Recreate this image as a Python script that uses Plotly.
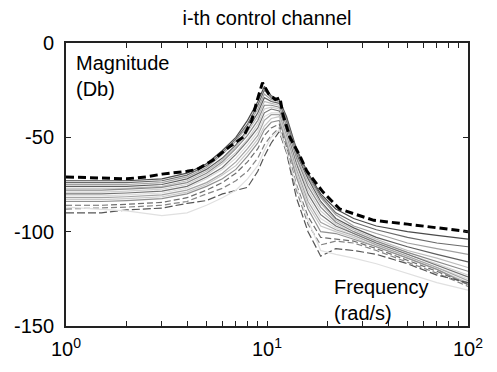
import plotly.graph_objects as go

# Envelope (worst case) curve
env_w = [1, 1.5, 2, 2.5, 3, 4, 4.5, 5.4, 6.5, 7.6, 8.4, 8.9, 9.5, 10.2, 11, 11.6, 12, 13, 14.6, 15.8, 19, 23, 34, 50, 72, 100]
env_db = [-71, -71.5, -72, -71, -69.5, -68, -67, -62, -55, -50, -41, -31, -21, -27, -30, -29, -38, -50, -60, -68, -79, -88, -94, -96, -98, -100]

# Frequency grid for the family of channel responses
freq = [1, 1.5, 2, 3, 4, 5, 6, 7, 8, 9, 9.7, 10.5, 11.5, 12.5, 14, 16, 18.5, 22, 27, 35, 50, 70, 100]

c0 = [-73, -73, -73, -72, -69, -64, -57, -50, -41, -31, -23, -28, -30, -39, -56, -69, -80, -88, -93, -97, -100, -102, -104]
c1 = [-74, -74, -74, -73, -70, -65, -58, -51, -43, -33, -25, -29, -31, -40, -57, -70, -81, -90, -95, -99, -103, -106, -108]
c2 = [-75, -75, -75, -74, -71, -66, -59, -52, -44, -35, -27, -30, -31, -41, -58, -71, -82, -91, -97, -101, -106, -109, -112]
c3 = [-76, -76, -76, -75, -72, -67, -61, -54, -46, -37, -29, -31, -32, -42, -59, -72, -84, -93, -98, -103, -108, -112, -116]
c4 = [-77, -77, -77, -76, -73, -68, -62, -55, -47, -39, -31, -32, -33, -43, -60, -74, -85, -94, -99, -104, -110, -114, -119]
c5 = [-78, -78, -77.5, -76.5, -74, -69, -63, -56, -49, -41, -33, -33, -34, -44, -61, -76, -87, -95, -100, -105, -111, -116, -121]
c6 = [-79, -79, -78.5, -77.5, -75, -70, -64, -58, -51, -43, -35, -34, -35, -46, -63, -78, -89, -96, -101, -106, -112, -117, -123]
c7 = [-80, -80, -79.5, -78.5, -76, -71, -66, -59, -52, -45, -37, -35, -36, -47, -64, -80, -91, -97, -101, -106, -112, -118, -124]
c8 = [-81, -81, -80.5, -79.5, -77, -72, -67, -61, -54, -47, -39, -37, -37, -48, -66, -82, -93, -98, -102, -107, -113, -119, -125]
c9 = [-82, -82, -81.5, -80.5, -78, -74, -69, -63, -56, -49, -41, -38, -38, -49, -67, -84, -95, -99, -102, -107, -113, -119, -126]
c10 = [-83, -83, -82.5, -81.5, -79, -75, -70, -65, -58, -51, -44, -40, -39, -51, -69, -86, -97, -100, -103, -108, -114, -120, -127]
c11 = [-84, -84, -83.5, -82.5, -80, -76, -72, -67, -60, -53, -46, -42, -41, -53, -71, -88, -100, -101, -104, -108, -114, -120, -128]
c12 = [-86, -86, -85.5, -84.5, -82, -78, -74, -69, -63, -56, -49, -45, -43, -55, -75, -92, -103, -104, -105, -109, -115, -121, -128]
c13 = [-88, -87.5, -87, -86, -84, -80, -77, -73, -68, -61, -54, -49, -45, -57, -78, -96, -107, -105, -106, -110, -116, -122, -129]
c14 = [-90, -90, -88.5, -87.5, -85, -83.5, -80, -78, -76.5, -68, -60, -53, -47, -58, -82, -100, -113, -109, -110, -112, -117, -123, -127]
c15 = [-87, -88, -89, -91.5, -90, -86, -82, -78, -72, -65, -57, -50, -46, -57, -76, -94, -110, -112, -114, -117, -122, -127, -131]

curves = [c0, c1, c2, c3, c4, c5, c6, c7, c8, c9, c10, c11, c12, c13, c14, c15]
shades = ['#4a4a4a', '#6a6a6a', '#a0a0a0', '#5e5e5e', '#bcbcbc', '#8a8a8a', '#cfcfcf', '#747474',
          '#dcdcdc', '#a4a4a4', '#c8c8c8', '#909090', '#6e6e6e', '#848484', '#555555', '#e0e0e0']
dashes = ['solid'] * 12 + ['6px,3px', '6px,3px', '8px,3px', 'solid']

# Axis ticks
x_tickvals = [1, 2, 3, 4, 5, 6, 7, 8, 9, 10, 20, 30, 40, 50, 60, 70, 80, 90, 100]
x_ticktext = ['10<sup>0</sup>'] + [''] * 8 + ['10<sup>1</sup>'] + [''] * 8 + ['10<sup>2</sup>']
y_tickvals = [0, -50, -100, -150]
y_ticktext = ['0', '-50', '-100', '-150']

fig = go.Figure()
for vals, col, dsh in zip(curves, shades, dashes):
    fig.add_trace(go.Scatter(x=freq, y=vals, mode='lines',
                             line=dict(color=col, width=1.2, dash=dsh),
                             showlegend=False, hoverinfo='skip'))

fig.add_trace(go.Scatter(x=env_w, y=env_db, mode='lines',
                         line=dict(color='black', width=3, dash='8px,4px'),
                         showlegend=False, hoverinfo='skip'))

font_family = 'Liberation Sans, Arial, sans-serif'

fig.update_layout(
    width=497, height=372,
    margin=dict(l=66, r=29, t=43, b=38),
    paper_bgcolor='white', plot_bgcolor='white',
    font=dict(family=font_family, size=20, color='black'),
    title=dict(text='i-th control channel', x=0.5, xref='paper', xanchor='center',
               y=1 - 18 / 372, yref='container', yanchor='middle',
               font=dict(size=20, color='black', family=font_family)),
    xaxis=dict(type='log', range=[0, 2], tickvals=x_tickvals, ticktext=x_ticktext,
               ticks='inside', ticklen=5, tickwidth=1.2, tickcolor='#222',
               showline=True, linecolor='#222', linewidth=2, mirror='ticks',
               showgrid=False, zeroline=False, ticklabelstandoff=4,
               tickfont=dict(size=20, color='black')),
    yaxis=dict(range=[-150, 0], tickvals=y_tickvals, ticktext=y_ticktext,
               ticks='inside', ticklen=5, tickwidth=1.2, tickcolor='#222',
               showline=True, linecolor='#222', linewidth=2, mirror='ticks',
               showgrid=False, zeroline=False, ticklabelstandoff=6,
               tickfont=dict(size=20, color='black')),
    annotations=[
        dict(text='Magnitude<br>(Db)', x=0.02, y=0.975, xref='paper', yref='paper',
             xanchor='left', yanchor='top', align='left', showarrow=False,
             font=dict(size=20, color='black', family=font_family)),
        dict(text='Frequency<br>(rad/s)', x=0.662, y=0.185, xref='paper', yref='paper',
             xanchor='left', yanchor='top', align='left', showarrow=False,
             font=dict(size=20, color='black', family=font_family)),
    ],
)

fig.write_html('out.html')
